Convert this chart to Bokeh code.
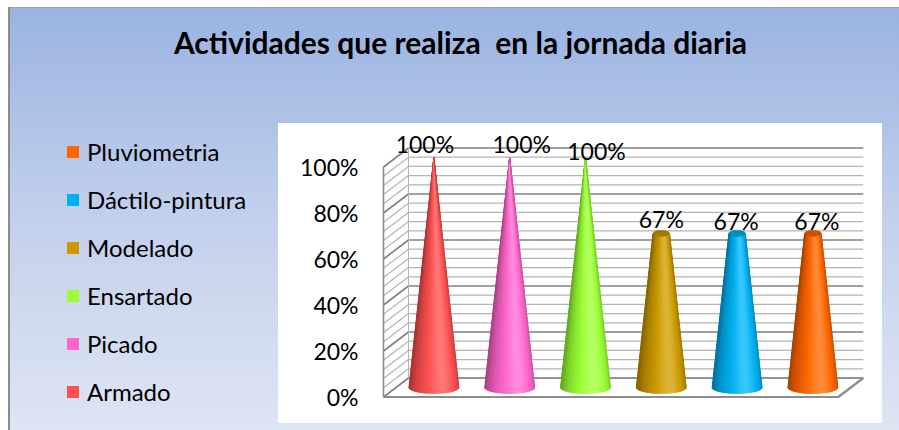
import numpy as np
from bokeh.plotting import figure
from bokeh.models import (Range1d, PrintfTickFormatter, FixedTicker, Legend,
                          LegendItem, ColumnDataSource, Label)
from bokeh.core.properties import value
from bokeh.embed import file_html
from bokeh.resources import INLINE

# ---------------- data ----------------
categories = ["Armado", "Picado", "Ensartado", "Modelado", "Dáctilo-pintura", "Pluviometria"]
values = [100, 100, 100, 67, 67, 67]
colors = ["#FF5050", "#FF66CC", "#99FF33", "#CC9900", "#00B0F0", "#FF6600"]
tick_values = [0, 20, 40, 60, 80, 100]
title_text = "Actividades que realiza\u00a0 en la jornada diaria"

# ---------------- layout / style ----------------
W, H = 899, 430
WALL_X = 383          # px position of the front-left wall edge
ZERO_Y = 396.5        # px position of the 0% front line
PX_X = 75.8           # px per category
PX_Y = 2.3            # px per percent
DX = 25 / PX_X        # depth offset in x units
DY = 19 / PX_Y        # depth offset in y units
R = 25 / PX_X         # cone base radius (x units)
RY = 6 / PX_Y         # base ellipse half height (y units)
NS = 28
FONT = "Lato"
label_dx = [-9, 12, 11, 0, -1, 4]
label_dy = [0, 0, 7, 0, 2, 2]


def dx_of(px):
    return (px - WALL_X) / PX_X


def dy_of(py):
    return (ZERO_Y - py) / PX_Y


n = len(categories)
p = figure(width=W, height=H, output_backend="svg", toolbar_location=None,
           x_range=Range1d(dx_of(0), dx_of(W)), y_range=Range1d(dy_of(H), dy_of(0)),
           x_axis_location=None, min_border_left=0, min_border_top=0,
           min_border_right=0, min_border_bottom=0)
p.border_fill_color = None
p.background_fill_color = None
p.outline_line_color = None
p.xgrid.visible = False
p.ygrid.visible = False
p.styles = {
    "background": ("linear-gradient(#ffffff, #ffffff) 278px 123px / 604px 300px no-repeat, "
                   "linear-gradient(#8c8c8c, #8c8c8c) 8px 7px / 2px 423px no-repeat, "
                   "linear-gradient(#a0a0a0, #a0a0a0) 8px 7px / 891px 1px no-repeat, "
                   "linear-gradient(180deg, #99B3E1 0%, #C3D0EC 50%, #DEE5F3 100%) "
                   "8px 7px / 891px 423px no-repeat, #ffffff"),
}

# y axis drawn at the front wall
ax = p.yaxis[0]
ax.fixed_location = 0
ax.ticker = FixedTicker(ticks=tick_values)
ax.formatter = PrintfTickFormatter(format="%d%%")
ax.axis_line_color = None
ax.major_tick_line_color = None
ax.minor_tick_line_color = None
ax.major_tick_out = 0
ax.major_tick_in = 0
ax.major_label_standoff = 25
ax.major_label_text_font = FONT
ax.major_label_text_font_size = "23px"
ax.major_label_text_color = "#000000"

# title
p.add_layout(Label(x=dx_of(460), y=dy_of(41), text=title_text, text_align="center",
                   text_baseline="alphabetic", text_font=FONT, text_font_style="bold",
                   text_font_size="30px", text_color="#000000"))

# ---------------- 3D walls ----------------
top = tick_values[-1]
minor = np.arange(0, top + 1, 4)
p.patch([0, n, n + DX, DX], [0, 0, DY, DY], fill_color="white",
        line_color="#a0a0a0", line_width=1)
back_xs = [[DX, n + DX] for v in minor]
back_ys = [[v + DY, v + DY] for v in minor]
back_col = ["#808080" if v % 20 == 0 else "#b4b4b4" for v in minor]
back_w = [1.6 if v % 20 == 0 else 1.2 for v in minor]
p.multi_line(back_xs, back_ys, line_color=back_col, line_width=back_w)
side_xs = [[0, DX] for v in minor]
side_ys = [[v, v + DY] for v in minor]
p.multi_line(side_xs, side_ys, line_color=back_col, line_width=back_w)
p.multi_line([[0, 0], [DX, DX]], [[0, top], [DY, top + DY]],
             line_color=["#8c8c8c", "#b4b4b4"], line_width=[1.6, 1.0])
p.line([0, n, n + DX], [0, 0, DY], line_color="#8c8c8c", line_width=2.2)


# ---------------- cones ----------------
def hex2rgb(c):
    return np.array([int(c[1:3], 16), int(c[3:5], 16), int(c[5:7], 16)], float)


def rgb2hex(a):
    a = np.clip(a, 0, 255).round().astype(int)
    return "#%02x%02x%02x" % tuple(a)


def shade(c, u):
    base = hex2rgb(c)
    d = max(0.0, u * 0.35 + np.sqrt(max(0.0, 1 - u * u)) * 0.94)
    k = 0.66 + 0.38 * d
    col = base * k
    spec = 0.22 * d ** 12
    col = col + (255 - col) * spec
    return rgb2hex(col)


theta = np.linspace(np.pi, 0, NS + 1)
sil = dict(xs=[], ys=[], color=[])
strips = dict(xs=[], ys=[], color=[])
tops = dict(xs=[], ys=[], color=[])
lab = dict(x=[], y=[], text=[], dx=[], dy=[])
for i, (v, c) in enumerate(zip(values, colors)):
    cx = i + 0.5 + DX / 2
    yb = DY / 2
    yt = yb + v
    frac = v / top
    rt = R * (1 - frac)
    ryt = RY * 0.5 if rt > 1e-9 else 0.0
    bx = cx + R * np.cos(theta)
    by = yb - RY * np.sin(theta)
    tx = cx + rt * np.cos(theta)
    ty = yt - ryt * np.sin(theta)
    sil["xs"].append(list(bx) + list(cx + rt * np.cos(theta[::-1])))
    sil["ys"].append(list(by) + list(yt + ryt * np.sin(theta[::-1])))
    sil["color"].append(c)
    for k in range(NS):
        strips["xs"].append([bx[k], bx[k + 1], tx[k + 1], tx[k]])
        strips["ys"].append([by[k], by[k + 1], ty[k + 1], ty[k]])
        strips["color"].append(shade(c, np.cos((theta[k] + theta[k + 1]) / 2)))
    if rt > 1e-9:
        full = np.linspace(0, 2 * np.pi, 40)
        tops["xs"].append(list(cx + rt * np.cos(full)))
        tops["ys"].append(list(yt + ryt * np.sin(full)))
        tops["color"].append(rgb2hex(hex2rgb(c) * 0.8))
    lab["x"].append(cx)
    lab["y"].append(yt)
    lab["text"].append(f"{v}%")
    lab["dx"].append(label_dx[i])
    lab["dy"].append(label_dy[i])

sil_r = p.patches("xs", "ys", fill_color="color", line_color=None,
                  source=ColumnDataSource(sil))
p.patches("xs", "ys", fill_color="color", line_color="color", line_width=0.6,
          source=ColumnDataSource(strips))
p.patches("xs", "ys", fill_color="color", line_color="color", line_width=0.6,
          source=ColumnDataSource(tops))
p.text("x", "y", text="text", x_offset="dx", y_offset="dy",
       source=ColumnDataSource(lab), text_align="center", text_baseline="bottom",
       text_font=value(FONT), text_font_size="23px", text_color="#000000")

# ---------------- legend ----------------
items = [LegendItem(label=categories[i], renderers=[sil_r], index=i)
         for i in reversed(range(n))]
legend = Legend(items=items, location=(65, H - 406), orientation="vertical",
                glyph_width=15, glyph_height=15, label_standoff=7, spacing=19,
                padding=0, margin=0, label_height=15,
                background_fill_alpha=0, border_line_alpha=0,
                label_text_font=FONT, label_text_font_size="24px",
                label_text_color="#000000")
p.add_layout(legend)

open("out.html", "w").write(file_html(p, INLINE))
